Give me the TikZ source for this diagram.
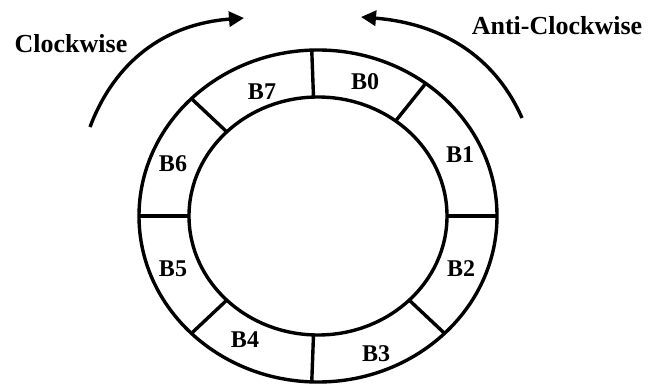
\documentclass[tikz,border=0pt]{standalone}
\usepackage{fontspec}
\setmainfont{Liberation Serif}
\usetikzlibrary{arrows.meta,calc}
\begin{document}
\begin{tikzpicture}[x=1pt,y=1pt,
  ring/.style={line width=3.4pt},
  divider/.style={line width=3.4pt},
  seglabel/.style={font=\bfseries\fontsize{24}{28}\selectfont,anchor=base,inner sep=0pt},
  dirlabel/.style={font=\bfseries\fontsize{26}{30}\selectfont,anchor=base,inner sep=0pt},
  dirarrow/.style={line width=3.4pt,-{Triangle[length=15pt,width=15pt]}}]
\useasboundingbox (0,0) rectangle (661,386);
\coordinate (c) at (318,170);
% ring
\draw[ring] (c) ellipse [x radius=179, y radius=166];
\draw[ring] (c) ellipse [x radius=129, y radius=119];
% dividers
\foreach \a in {0,53,92,135,180,225,268,315}{
  \draw[divider] ($(c)+({129*cos(\a)},{119*sin(\a)})$) -- ($(c)+({179*cos(\a)},{166*sin(\a)})$);
}
% labels
\node[seglabel] (b0) at (365,296) {B0};
\node[seglabel] (b1) at (460,223) {B1};
\node[seglabel] (b2) at (461,110) {B2};
\node[seglabel] (b3) at (376,25) {B3};
\node[seglabel] (b4) at (245,39) {B4};
\node[seglabel] (b5) at (173,110) {B5};
\node[seglabel] (b6) at (173,214) {B6};
\node[seglabel] (b7) at (262,286) {B7};
\node[dirlabel] (cw) at (71,333) {Clockwise};
\node[dirlabel] (acw) at (557,351) {Anti-Clockwise};
% arrows
\coordinate (cws) at (90,259);
\coordinate (cwe) at (244,368);
\coordinate (acws) at (522,268);
\coordinate (acwe) at (361,369);
\draw[dirarrow] (cws) .. controls (115,325) and (165,362) .. (cwe);
\draw[dirarrow] (acws) .. controls (497,325) and (447,362) .. (acwe);
\end{tikzpicture}
\end{document}
